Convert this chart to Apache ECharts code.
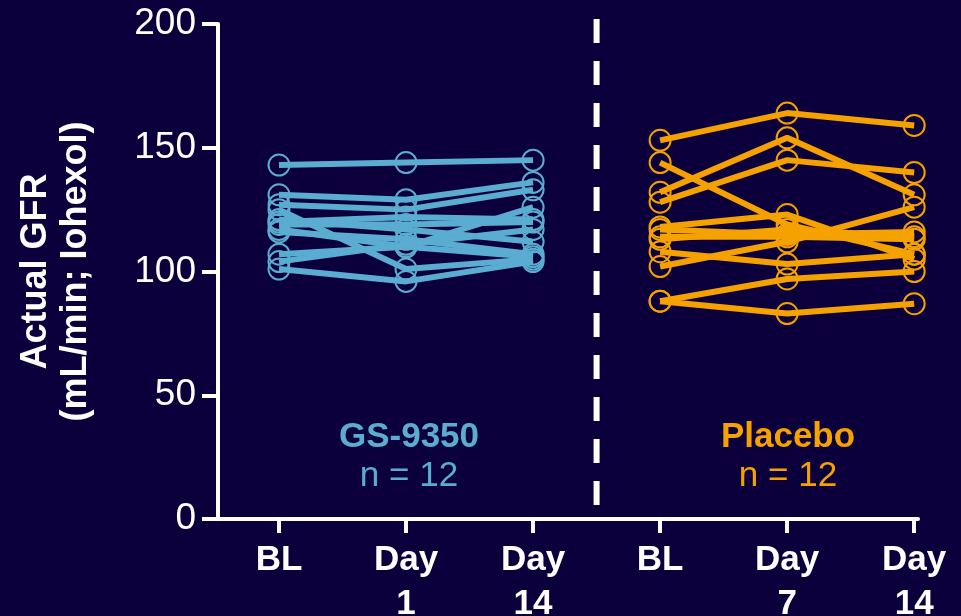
<!DOCTYPE html>
<html><head><meta charset="utf-8">
<script src="https://cdn.jsdelivr.net/npm/echarts@6/dist/echarts.min.js"></script>
<style>html,body{margin:0;padding:0;background:#0b003c;}#c{width:961px;height:616px;}</style>
</head><body><div id="c"></div>
<script>
// ---- data ----
const xLabels   = ['BL', 'Day\n1', 'Day\n14', 'BL', 'Day\n7', 'Day\n14'];
const xPositions = [1, 2, 3, 4, 5, 6];
const gsX = [1, 2, 3];          // GS-9350: BL, Day 1, Day 14
const pbX = [4, 5, 6];          // Placebo: BL, Day 7, Day 14
const gsBL    = [143, 131, 127, 125, 121, 120, 119, 117, 116, 107, 104, 101];
const gsDay1  = [144, 129, 125, 101, 117, 122, 119, 110, 113, 110, 111, 96];
const gsDay14 = [145, 136, 133, 105, 112, 121, 120, 106, 107, 126, 117, 104];
const pbBL    = [153, 144, 132, 128, 118, 117, 114, 113, 108, 102, 88, 88];
const pbDay7  = [164, 119, 154, 145, 123, 115, 114, 117, 103, 112, 97, 83];
const pbDay14 = [159, 107, 131, 140, 105, 116, 113, 114, 107, 126, 100, 87];
const groupNames = ['GS-9350', 'Placebo'];
const groupN = ['n = 12', 'n = 12'];
const dividerX = 3.5;
const dividerRange = [202, 5.66];

const BLUE = '#5aacd0', ORANGE = '#f5a200', BG = '#0b003c';
const FONT = '"Liberation Sans", Arial, sans-serif';

const chart = echarts.init(document.getElementById('c'));
const series = [];
function addGroup(xs, a, b, c, color) {
  for (let i = 0; i < a.length; i++) {
    series.push({
      type: 'line',
      data: [[xs[0], a[i]], [xs[1], b[i]], [xs[2], c[i]]],
      symbol: 'circle', symbolSize: 21,
      itemStyle: { color: 'transparent', borderColor: color, borderWidth: 2 },
      lineStyle: { color: color, width: 6 },
      silent: true, animation: false
    });
  }
}
addGroup(gsX, gsBL, gsDay1, gsDay14, BLUE);
addGroup(pbX, pbBL, pbDay7, pbDay14, ORANGE);
series.push({
  type: 'line', data: [[dividerX, dividerRange[0]], [dividerX, dividerRange[1]]],
  symbol: 'none', clip: false, silent: true, animation: false,
  lineStyle: { color: '#ffffff', width: 6, type: [24, 18] }
});

chart.setOption({
  backgroundColor: BG,
  animation: false,
  grid: { left: 218, right: 43, top: 24, bottom: 97, containLabel: false, outerBoundsMode: 'none' },
  xAxis: {
    type: 'value', min: 0.52, max: 6.03,
    axisLine: { show: true, lineStyle: { color: '#fff', width: 4 } },
    axisTick: { show: true, customValues: xPositions, length: 14, lineStyle: { color: '#fff', width: 4 } },
    axisLabel: {
      customValues: xPositions, margin: 19,
      formatter: v => xLabels[Math.round(v) - 1],
      color: '#fff', fontSize: 35, fontWeight: 'bold', fontFamily: FONT, lineHeight: 44
    },
    splitLine: { show: false }
  },
  yAxis: {
    type: 'value', min: 0, max: 200, interval: 50,
    name: 'Actual GFR\n(mL/min; Iohexol)', nameLocation: 'middle', nameGap: 122,
    nameTextStyle: { color: '#fff', fontSize: 36, fontWeight: 'bold', fontFamily: FONT, lineHeight: 40 },
    axisLine: { show: true, lineStyle: { color: '#fff', width: 4 } },
    axisTick: { show: true, length: 16, lineStyle: { color: '#fff', width: 4 } },
    axisLabel: { color: '#fff', fontSize: 37, fontFamily: FONT, margin: 22 },
    splitLine: { show: false }
  },
  graphic: [
    { type: 'text', x: 409, y: 437, style: { text: groupNames[0], fill: BLUE, font: 'bold 35px ' + FONT, textAlign: 'center', textVerticalAlign: 'middle' } },
    { type: 'text', x: 409, y: 476, style: { text: groupN[0], fill: BLUE, font: '35px ' + FONT, textAlign: 'center', textVerticalAlign: 'middle' } },
    { type: 'text', x: 788, y: 437, style: { text: groupNames[1], fill: ORANGE, font: 'bold 35px ' + FONT, textAlign: 'center', textVerticalAlign: 'middle' } },
    { type: 'text', x: 788, y: 476, style: { text: groupN[1], fill: ORANGE, font: '35px ' + FONT, textAlign: 'center', textVerticalAlign: 'middle' } }
  ],
  series: series
});
</script></body></html>
